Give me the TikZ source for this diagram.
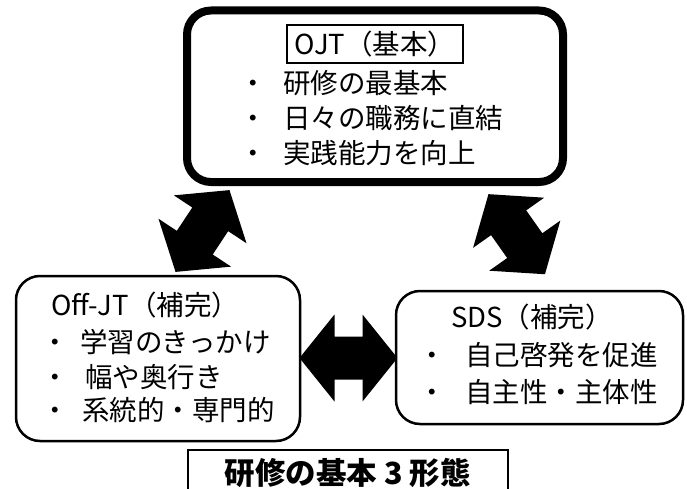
\documentclass[tikz,border=0pt]{standalone}
\usepackage{fontspec}
\setmainfont{Noto Sans CJK JP}
\usepackage{tikz}

\tikzset{
  roundbox/.style={draw, line width = 2.5pt, rounded corners=24pt, fill=white, inner sep=0pt},
  txt/.style={anchor=base west, inner sep=0pt, font=\fontsize{27.5}{33}\selectfont},
}

\begin{document}
\begin{tikzpicture}[x=1pt,y=1pt]
\useasboundingbox (0,0) rectangle (687,488);
% block arrows between the boxes
\foreach \x/\y/\a in {348.5/130/0, 202.5/257/56.6, 516.7/253.8/125.2}
  \fill[shift={(\x,\y)}, rotate=\a] (-49,0) -- (-14,43.5) -- (-14,21.5) -- (14,21.5) -- (14,43.5) -- (49,0)
    -- (14,-43.5) -- (14,-21.5) -- (-14,-21.5) -- (-14,-43.5) -- cycle;

\node[roundbox, line width = 8pt, minimum width=376pt, minimum height=171.5pt] (ojt) at (375,391.75) {};
\node[roundbox, minimum width=284pt, minimum height=165pt] (off) at (158,129.5) {};
\node[roundbox, minimum width=287pt, minimum height=133pt] (sds) at (539.5,130.5) {};
\node[draw, line width = 2.5pt, minimum width=320pt, minimum height=45pt, inner sep=0pt,
  font=\fontsize{30.5}{36}\selectfont\bfseries] (cap) at (348,15.5) {研修の基本 3 形態};

\node[draw, line width = 1.8pt, inner sep=0pt, minimum width=176pt, minimum height=38pt,
  font=\fontsize{27.5}{33}\selectfont] (ojttitle) at (375,444) {OJT（基本）};
\node[txt] (ojt1) at (239.25,394.5) {・\hspace{16.25pt}研修の最基本};
\node[txt] (ojt2) at (239.25,359.5) {・\hspace{16.25pt}日々の職務に直結};
\node[txt] (ojt3) at (239.25,324.5) {・\hspace{16.25pt}実践能力を向上};

\node[txt] (offtitle) at (51,172.5) {Off-JT（補完）};
\node[txt] (off1) at (41.25,135.5) {・\hspace{11.25pt}学習のきっかけ};
\node[txt] (off2) at (41.25,100.5) {・\hspace{16.25pt}幅や奥行き};
\node[txt] (off3) at (41.25,67.5) {・\hspace{13.25pt}系統的・専門的};

\node[txt] (sdstitle) at (451,160.5) {SDS（補完）};
\node[txt] (sds1) at (418.25,122.5) {・\hspace{19.25pt}自己啓発を促進};
\node[txt] (sds2) at (418.25,85.5) {・\hspace{19.25pt}自主性・主体性};
\end{tikzpicture}
\end{document}
